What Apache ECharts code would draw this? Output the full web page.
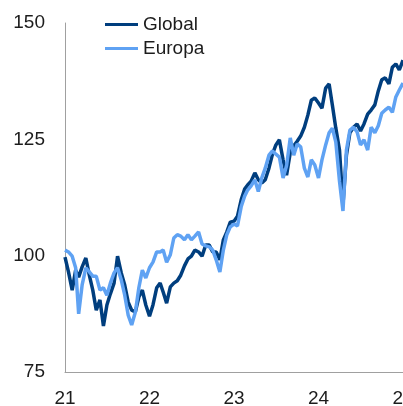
<!DOCTYPE html>
<html>
<head>
<meta charset="utf-8">
<script src="https://cdn.jsdelivr.net/npm/echarts@6/dist/echarts.min.js"></script>
<style>
  html, body { margin: 0; padding: 0; background: #fff; }
  #chart { width: 403px; height: 406px; }
</style>
</head>
<body>
<div id="chart"></div>
<script>
// Half-monthly observation dates, Jan 2021 through Jan 2025
const dates = [];
for (let y = 2021; y <= 2024; y++) {
  for (let m = 1; m <= 12; m++) {
    const mm = String(m).padStart(2, '0');
    dates.push(y + '-' + mm + '-01', y + '-' + mm + '-16');
  }
}
dates.push('2025-01-01');

// Index levels (start = 100)
const globalValues = [
  99.7, 96.5, 92.6, 96.9, 95.4, 97.6, 99.5, 95.8, 92.6, 88.3, 90.5, 84.9,
  89.4, 91.8, 94.1, 99.9, 96.3, 93.7, 90.0, 88.3, 87.9, 91.1, 92.6, 89.4,
  87.0, 89.4, 93.1, 94.1, 92.2, 89.8, 93.3, 94.1, 94.6, 95.8, 97.8, 99.3,
  99.9, 101.2, 100.8, 99.9, 102.3, 102.3, 100.8, 100.8, 99.1, 103.4, 105.1, 107.2,
  107.4, 108.5, 112.0, 114.3, 115.2, 116.0, 117.8, 116.3, 115.6, 116.3, 118.8, 121.8,
  123.8, 124.9, 120.6, 117.3, 122.1, 123.6, 124.6, 125.7, 127.6, 130.2, 133.4, 133.9,
  132.8, 131.7, 136.0, 136.9, 132.4, 127.4, 122.7, 110.9, 121.6, 126.4, 127.6, 128.3,
  126.8, 128.3, 130.4, 131.3, 132.4, 135.4, 137.8, 138.2, 136.9, 140.5, 141.2, 139.9,
  142.0
];
const europaValues = [
  101.2, 100.8, 99.9, 97.4, 87.5, 93.7, 97.4, 96.5, 95.6, 95.6, 92.6, 93.1,
  91.5, 94.1, 96.3, 97.4, 94.8, 91.5, 87.2, 85.1, 87.9, 93.1, 96.9, 95.2,
  97.4, 98.6, 100.8, 100.8, 101.2, 98.6, 100.2, 103.8, 104.5, 104.2, 103.4, 104.5,
  103.4, 104.2, 105.1, 102.5, 102.1, 101.9, 101.2, 99.1, 96.5, 101.2, 104.5, 106.2,
  106.8, 106.4, 110.5, 112.8, 114.1, 115.0, 116.3, 113.8, 116.7, 118.8, 121.6, 122.5,
  121.8, 121.2, 116.7, 119.3, 125.3, 121.6, 124.0, 123.4, 118.8, 116.9, 120.6, 119.5,
  116.7, 120.6, 123.8, 126.4, 127.4, 124.4, 116.0, 109.6, 122.7, 127.0, 127.6, 126.6,
  123.8, 124.9, 122.7, 127.6, 126.4, 127.9, 130.6, 131.3, 131.9, 130.8, 134.1, 135.6,
  137.1
];

const yTicks = { min: 75, max: 150, step: 25 };
const xYears = { min: 2021, max: 2025 };

// Convert an ISO date to a fractional year
function toYear(s) {
  const [y, m, d] = s.split('-').map(Number);
  const t = Date.UTC(y, m - 1, d);
  const a = Date.UTC(y, 0, 1), b = Date.UTC(y + 1, 0, 1);
  return y + (t - a) / (b - a);
}
const xs = dates.map(toYear);
const pairs = vals => vals.map((v, i) => [xs[i], v]);

const FONT = '"Liberation Sans", Arial, Helvetica, sans-serif';
const TXT = '#1c1c1c';
const AXIS = '#a0a0a0';

const chart = echarts.init(document.getElementById('chart'), null, { renderer: 'canvas' });
chart.setOption({
  animation: false,
  backgroundColor: '#ffffff',
  textStyle: { fontFamily: FONT },
  grid: { left: 65, right: 0, top: 23, bottom: 34, containLabel: false, outerBoundsMode: 'none' },
  legend: {
    orient: 'vertical',
    left: 105,
    top: 15,
    padding: 0,
    itemWidth: 33,
    itemHeight: 3,
    itemGap: 5,
    icon: 'rect',
    textStyle: { fontFamily: FONT, fontSize: 19, color: TXT },
    data: ['Global', 'Europa']
  },
  xAxis: {
    type: 'value',
    min: xYears.min,
    max: xYears.max,
    interval: 1,
    axisLine: { show: true, lineStyle: { color: AXIS, width: 1 } },
    axisTick: { show: false },
    splitLine: { show: false },
    axisLabel: {
      fontFamily: FONT, fontSize: 19, color: TXT, margin: 17,
      showMinLabel: true, showMaxLabel: true,
      formatter: v => String(Math.round(v)).slice(2)
    }
  },
  yAxis: {
    type: 'value',
    min: yTicks.min,
    max: yTicks.max,
    interval: yTicks.step,
    axisLine: { show: true, lineStyle: { color: AXIS, width: 1 } },
    axisTick: { show: false },
    splitLine: { show: false },
    axisLabel: {
      fontFamily: FONT, fontSize: 19, color: TXT, margin: 20,
      padding: [5, 0, 0, 0]
    }
  },
  series: [
    {
      name: 'Global',
      type: 'line',
      data: pairs(globalValues),
      symbol: 'none',
      color: '#003e7e',
      lineStyle: { width: 3.5, color: '#003e7e' }
    },
    {
      name: 'Europa',
      type: 'line',
      data: pairs(europaValues),
      symbol: 'none',
      color: '#5fa2f3',
      lineStyle: { width: 3.5, color: '#5fa2f3' }
    }
  ]
});
</script>
</body>
</html>
